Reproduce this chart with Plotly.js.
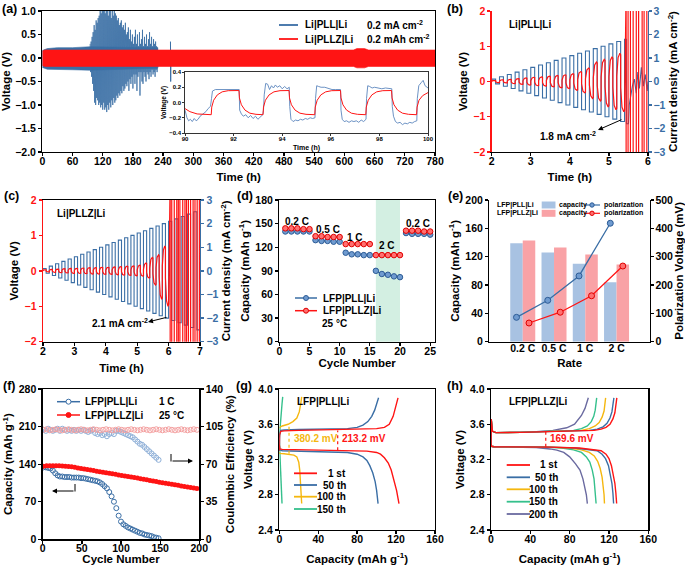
<!DOCTYPE html>
<html><head><meta charset="utf-8">
<script src="https://cdn.plot.ly/plotly-3.0.1.min.js"></script>
<style>html,body{margin:0;padding:0;background:#fff;}#chart{width:685px;height:565px;}</style>
</head><body><div id="chart"></div>
<script>
// ---------------- (a) long-term cycling ----------------
const aBlueBandT  = [0, 10, 30, 60, 95, 229];
const aBlueBandHi = [0.16, 0.2, 0.22, 0.22, 0.24, 0.22];
const aBlueBandLo = [-0.2, -0.24, -0.25, -0.25, -0.26, -0.22];
const aBlueSpikeStart = 95, aBlueSpikeStep = 2;
const aBlueSpikeHi = [0.3,0.35,0.45,0.55,0.7,0.6,0.8,0.75,0.85,0.9,1.0,0.95,1.0,1.0,1.0,0.95,1.0,1.0,0.9,1.0,1.0,0.85,1.0,0.9,1.0,0.95,0.9,0.8,0.85,0.7,0.75,0.8,0.65,0.7,0.6,0.75,0.5,0.55,0.65,0.4,0.6,0.35,0.5,0.3,0.45,0.6,0.3,0.5,0.25,0.55,0.3,0.4,0.6,0.25,0.45,0.3,0.5,0.25,0.4,0.55,0.3,0.45,0.25,0.4,0.3,0.35,0.25,0.22];
const aBlueSpikeLo = [-0.3,-0.4,-0.55,-0.7,-0.95,-1.0,-0.85,-0.9,-1.0,-0.95,-1.05,-1.0,-1.1,-0.95,-1.1,-1.05,-1.15,-1.0,-1.1,-0.95,-1.05,-0.9,-1.0,-0.85,-0.95,-0.9,-0.8,-0.85,-0.75,-0.8,-0.7,-0.75,-0.6,-0.7,-0.65,-0.55,-0.6,-0.5,-0.7,-0.45,-0.55,-0.4,-0.65,-0.35,-0.55,-0.35,-0.7,-0.4,-0.3,-0.8,-0.3,-0.5,-0.55,-0.3,-0.4,-0.5,-0.3,-0.35,-0.45,-0.3,-0.4,-0.25,-0.35,-0.3,-0.4,-0.25,-0.3,-0.2];
const aBlueLateT = [254.6, 255, 255.4];
const aBlueLateV = [0.35, -0.5, 0.0];
const aRedBandT  = [0, 5, 300, 600, 618, 625, 640, 648, 780];
const aRedBandHi = [0.15, 0.17, 0.17, 0.17, 0.17, 0.2, 0.2, 0.17, 0.17];
const aRedBandLo = [-0.16, -0.18, -0.18, -0.18, -0.18, -0.21, -0.21, -0.18, -0.18];
// inset 90-100 h
const insRedT = [90,90.2,90.5,90.8,91.08,91.1,91.18,91.33,91.53,91.78,92.22,92.24,92.32,92.47,92.67,92.92,93.21,93.23,93.31,93.46,93.66,93.91,94.28,94.3,94.38,94.53,94.73,94.98,95.34,95.36,95.44,95.59,95.79,96.04,96.4,96.42,96.5,96.65,96.85,97.1,97.44,97.46,97.54,97.69,97.89,98.14,98.5,98.52,98.6,98.75,98.95,99.2,99.53,99.55,99.63,99.78,100];
const insRedV = [-0.08,-0.12,-0.15,-0.16,-0.16,-0.06,0.03,0.1,0.14,0.155,0.157,0.06,-0.03,-0.1,-0.14,-0.155,-0.16,-0.06,0.03,0.1,0.14,0.155,0.157,0.06,-0.03,-0.1,-0.14,-0.155,-0.16,-0.06,0.03,0.1,0.14,0.155,0.157,0.06,-0.03,-0.1,-0.14,-0.155,-0.16,-0.06,0.03,0.1,0.14,0.155,0.157,0.06,-0.03,-0.1,-0.14,-0.155,-0.16,-0.06,0.03,0.09,0.13];
const insBlueT = [90,90.08,90.15,90.22,90.3,90.38,90.46,90.54,90.62,90.7,90.78,90.86,90.95,91.05,91.09,91.13,91.25,91.6,92,92.23,92.25,92.32,92.4,92.5,92.6,92.7,92.8,92.9,93,93.1,93.2,93.23,93.26,93.32,93.4,93.48,93.56,93.64,93.72,93.8,93.9,94,94.1,94.2,94.29,94.31,94.36,94.45,94.55,94.65,94.75,94.85,94.95,95.05,95.15,95.25,95.35,95.37,95.42,95.5,95.6,95.75,95.9,96.05,96.2,96.4,96.42,96.47,96.55,96.65,96.75,96.85,96.95,97.05,97.15,97.25,97.35,97.45,97.47,97.52,97.6,97.7,97.8,97.95,98.1,98.25,98.4,98.51,98.53,98.58,98.66,98.75,98.85,98.95,99.05,99.15,99.25,99.35,99.45,99.54,99.56,99.62,99.72,99.8,99.88,100];
const insBlueV = [-0.1,-0.2,-0.24,-0.22,-0.25,-0.21,-0.24,-0.22,-0.18,-0.16,-0.14,-0.12,-0.08,-0.05,0.05,0.15,0.17,0.17,0.17,0.17,-0.1,-0.15,-0.18,-0.16,-0.2,-0.17,-0.21,-0.18,-0.22,-0.19,-0.16,-0.1,0.1,0.25,0.24,0.17,0.22,0.19,0.23,0.2,0.22,0.18,0.21,0.18,0.2,-0.05,-0.22,-0.25,-0.23,-0.24,-0.22,-0.23,-0.21,-0.22,-0.2,-0.21,-0.2,0.05,0.22,0.21,0.2,0.2,0.18,0.17,0.17,0.17,-0.1,-0.22,-0.25,-0.24,-0.26,-0.24,-0.25,-0.24,-0.26,-0.23,-0.25,-0.22,0.05,0.22,0.21,0.19,0.2,0.19,0.18,0.19,0.18,0.18,-0.05,-0.18,-0.25,-0.27,-0.26,-0.29,-0.27,-0.28,-0.26,-0.27,-0.25,-0.24,0.05,0.22,0.26,0.29,0.22,0.19];

// ---------------- (b) Li|PLL|Li rate steps ----------------
const bStart = 2.0, bHalf = 0.1;
const bCurrent = [0.1,0.2,0.3,0.4,0.5,0.6,0.7,0.8,0.9,1.0,1.1,1.2,1.3,1.4,1.5,1.6,1.7];
const bRedPos = [0.03,0.05,0.06,0.08,0.1,0.12,0.13,0.15,0.17,0.19,0.22,0.28,0.38,0.55,0.63,0.7,0.8];
const bRedNeg = [-0.03,-0.04,-0.06,-0.08,-0.1,-0.12,-0.13,-0.15,-0.18,-0.2,-0.25,-0.32,-0.48,-0.55,-0.72,-0.8,-0.86];
const bBlueTailT = [5.4,5.45,5.45,5.5,5.52,5.56,5.6,5.65,5.7,5.74,5.78,5.83,5.88,5.93,5.98,6.0];
const bBlueTailV = [1.8,1.8,-1.8,-1.8,-1.0,-0.6,-0.2,0.1,-0.5,0.4,-0.3,0.6,-0.2,0.3,-0.4,0.0];
const bFailT = [5.44,5.49,5.55,5.62,5.7,5.76,5.85,5.9,5.97];

// ---------------- (c) Li|PLLZ|Li rate steps ----------------
const cStart = 2.0, cHalf = 0.1;
const cCurrent = [0.1,0.2,0.3,0.4,0.5,0.6,0.7,0.8,0.9,1.0,1.1,1.2,1.3,1.4,1.5,1.6,1.7,1.8,1.9,2.0,2.1,2.2,2.3,2.4,2.5];
const cRedPos = [0.03,0.04,0.05,0.06,0.07,0.07,0.08,0.09,0.09,0.1,0.1,0.11,0.12,0.13,0.14,0.16,0.22,0.38,0.45,0.7];
const cRedNeg = [-0.03,-0.04,-0.05,-0.06,-0.07,-0.07,-0.08,-0.09,-0.09,-0.1,-0.1,-0.11,-0.12,-0.13,-0.14,-0.15,-0.2,-0.4,-0.8,-1.0];
const cFailT = [6.05,6.1,6.18,6.26,6.31,6.36,6.45,6.52,6.57,6.63,6.7,6.78,6.84,6.91,6.98];

// ---------------- (d) rate capability ----------------
const dCycles = [1,2,3,4,5,6,7,8,9,10,11,12,13,14,15,16,17,18,19,20,21,22,23,24,25];
const dPLL  = [140,140,140,140,140,129,128,128,127,127,113,111,111,110,110,90,86,85,83,82,138,137,137,137,136];
const dPLLZ = [144,144,144,143,143,134,134,133,133,133,124,124,124,124,124,110,110,110,110,110,141,141,141,140,140];
const dRateLabels = ['0.2 C','0.5 C','1 C','2 C','0.2 C'];
const dHighlight = [16, 20];

// ---------------- (e) capacity & polarization vs rate ----------------
const eRates = ['0.2 C','0.5 C','1 C','2 C'];
const eCapPLL  = [139,126,110,84];
const eCapPLLZ = [143,133,123,109];
const ePolPLL  = [86,146,232,418];
const ePolPLLZ = [66,104,162,267];

// ---------------- (f) long cycling at 1 C ----------------
const fCapPLL = [134,134,133,132,128,123,119,117,117,116,116,116,115,115,115,115,114,114,113,112,111,110,109,108,106,103,99,95,88,80,70,58,44,33,28,25,22,20,18,16,14,12,11,9,8,7,6,4,3,2];
const fCePLL  = [102,101,103,102,101,102,103,101,103,102,101,102,101,102,101,102,101,102,101,100,101,102,99,98,99,97,98,96,98,99,98,101,101,100,99,98,97,96,95,93,91,89,88,86,84,82,80,78,76,74];
const fCapPLLZ = [136,137,137,137,137,137,136.5,136,135.5,135,134,133,132,131,130,129,128,127,126,125,124,123,122,121,120,119,118,117,116,115,114,113,112,111,109.5,108.5,107.5,106.5,105.5,104.5,103.5,102.5,101.5,100.5,99.5,98.5,97.5,96.5,95.5,94.5];
const fCePLLZ = [102,102.5,101.5,102,102.5,102,101.5,102,102.5,102,101.5,102,102.5,102,101.5,102,102.5,102,101.5,102,102.5,102,101.5,102,102.5,102,101.5,102,102.5,102,101.5,102,102.5,102,101.5,102,102.5,102,101.5,102,102.5,102,101.5,102,102.5,102,101.5,102,102.5,102];

// ---------------- (g) LFP|PLL|Li charge/discharge ----------------
const g1ChgQ = [0,0.3,1.5,5,20,50,80,100,108,113,117,120,122];
const g1ChgV = [3.3,3.48,3.52,3.525,3.53,3.535,3.54,3.55,3.565,3.6,3.69,3.8,3.9];
const g1DisQ = [0,0.5,3,20,60,90,100,104,108,112,115,117,119,120.5,122,123];
const g1DisV = [3.37,3.32,3.315,3.31,3.305,3.295,3.28,3.26,3.22,3.16,3.08,3.0,2.92,2.85,2.76,2.7];
const g50ChgQ = [0,0.3,1.5,5,20,50,70,80,86,91,95,98,100.5,102];
const g50ChgV = [3.3,3.48,3.53,3.535,3.54,3.545,3.55,3.565,3.59,3.63,3.69,3.76,3.84,3.9];
const g50DisQ = [0,0.5,3,20,50,70,80,86,90,93,96,98.5,100,101,101.5];
const g50DisV = [3.36,3.31,3.3,3.295,3.29,3.28,3.26,3.23,3.19,3.13,3.05,2.95,2.85,2.77,2.7];
const g100ChgQ = [0,3,9,14,18,20.5,22,23];
const g100ChgV = [3.56,3.58,3.6,3.63,3.67,3.74,3.83,3.91];
const g100DisQ = [0,0.5,5,10,15,18,20,21,21.5,22,22.5,23];
const g100DisV = [3.28,3.27,3.265,3.26,3.25,3.23,3.17,3.08,3.0,2.9,2.8,2.7];
const g150ChgQ = [0,0.8,1.8,2.8,3.5];
const g150ChgV = [3.45,3.6,3.72,3.83,3.91];
const g150DisQ = [0,0.5,1.2,1.8,2.3,2.8];
const g150DisV = [3.42,3.3,3.15,3.0,2.85,2.7];

// ---------------- (h) LFP|PLLZ|Li charge/discharge ----------------
const h1ChgQ = [0,0.2,1.5,5,30,60,90,105,112,117,121,124,126,127.3,128];
const h1ChgV = [3.36,3.66,3.52,3.505,3.508,3.515,3.52,3.53,3.545,3.565,3.6,3.66,3.73,3.82,3.9];
const h1DisQ = [0,0.5,3,30,60,90,105,112,117,120,122.5,124.5,126,127,127.8];
const h1DisV = [3.37,3.35,3.345,3.345,3.34,3.33,3.315,3.3,3.26,3.21,3.13,3.03,2.93,2.82,2.7];
const h50ChgQ = [0,0.2,1.5,5,30,60,85,100,108,114,118,121,123,124.3,125];
const h50ChgV = [3.36,3.66,3.52,3.505,3.508,3.515,3.52,3.53,3.545,3.57,3.61,3.67,3.74,3.82,3.9];
const h50DisQ = [0,0.5,3,30,60,85,100,108,113,116.5,119.5,121.5,123,124,124.7];
const h50DisV = [3.37,3.35,3.345,3.345,3.34,3.33,3.315,3.3,3.26,3.21,3.13,3.03,2.93,2.82,2.7];
const h100ChgQ = [0,0.2,1.5,5,30,60,80,92,100,106,110,113,115,116,116.6];
const h100ChgV = [3.36,3.66,3.52,3.505,3.508,3.515,3.52,3.53,3.55,3.58,3.62,3.68,3.75,3.83,3.9];
const h100DisQ = [0,0.5,3,30,60,80,92,100,105,108.5,111,113,114.2,115,115.4];
const h100DisV = [3.37,3.35,3.345,3.345,3.34,3.33,3.31,3.28,3.24,3.18,3.1,3.0,2.9,2.8,2.7];
const h150ChgQ = [0,0.2,1.5,5,30,55,72,84,92,98,102,104.5,106,107,107.5];
const h150ChgV = [3.36,3.66,3.52,3.505,3.508,3.515,3.52,3.53,3.55,3.58,3.63,3.69,3.76,3.84,3.9];
const h150DisQ = [0,0.5,3,30,55,72,84,92,97,100.5,103,104.8,105.8,106.5,106.9];
const h150DisV = [3.37,3.35,3.345,3.345,3.34,3.33,3.31,3.28,3.23,3.17,3.08,2.98,2.88,2.78,2.7];
const h200ChgQ = [0,0.2,1.5,5,30,46,63,77,85,89,92,95.6,97.5,99];
const h200ChgV = [3.36,3.66,3.52,3.505,3.51,3.515,3.53,3.56,3.6,3.65,3.7,3.78,3.84,3.9];
const h200DisQ = [0,0.5,3,30,46,60,67,74,80,86,90.5,93.5,95.6,97,98];
const h200DisV = [3.37,3.35,3.345,3.342,3.337,3.32,3.307,3.28,3.23,3.15,3.08,2.98,2.89,2.8,2.7];

// ================= drawing =================
const FONT = '"Liberation Sans", Arial, Helvetica, sans-serif';
const W = 685, H = 565;
const PX = p => p / W, PY = p => 1 - p / H;
const BLUE = '#3a6ea5', RED = '#ff1414', YEL = '#f5b70f', GRN = '#35c08c', PUR = '#6a6aa0';
const tf = (s, c) => ({family: FONT, size: s, color: c || '#000', weight: 700});

function axis(o) {
  const a = {showline: true, linecolor: '#000', linewidth: 1.3, ticks: 'outside', ticklen: 3, tickwidth: 1.3,
    tickcolor: '#000', showgrid: false, zeroline: false, tickfont: tf(10.5), fixedrange: true};
  for (const k in o) if (!['tt','ts','so'].includes(k)) a[k] = o[k];
  if (o.tt !== undefined) a.title = {text: o.tt, font: tf(o.ts || 11.5), standoff: o.so !== undefined ? o.so : 4};
  return a;
}
const traces = [];
function line(x, y, xa, ya, color, w, extra) {
  traces.push(Object.assign({type: 'scatter', mode: 'lines', x: x, y: y, xaxis: xa, yaxis: ya,
    line: {color: color, width: w || 1}, hoverinfo: 'skip'}, extra || {}));
}
function band(t, hi, lo) { return {x: t.concat(t.slice().reverse()), y: hi.concat(lo.slice().reverse())}; }

// (a)
let bb = band(aBlueBandT, aBlueBandHi, aBlueBandLo);
line(bb.x, bb.y, 'x', 'y', BLUE, 0.6, {fill: 'toself', fillcolor: BLUE});
const zx = [], zy = [];
aBlueSpikeHi.forEach((v, i) => { const t = aBlueSpikeStart + i * aBlueSpikeStep; zx.push(t, t + 1); zy.push(v, aBlueSpikeLo[i]); });
line(zx, zy, 'x', 'y', BLUE, 0.8);
line(aBlueLateT, aBlueLateV, 'x', 'y', BLUE, 1);
let rb = band(aRedBandT, aRedBandHi, aRedBandLo);
line(rb.x, rb.y, 'x', 'y', RED, 0.6, {fill: 'toself', fillcolor: RED});
line(insBlueT, insBlueV, 'x2', 'y2', '#5b86bd', 0.9);
line(insRedT, insRedV, 'x2', 'y2', RED, 1);

// square-wave current and voltage response builders (from the step arrays)
function currentWave(t0, half, amps) {
  const x = [t0], y = [0];
  amps.forEach((a, k) => { const ts = t0 + 2 * k * half; x.push(ts, ts + half, ts + half, ts + 2 * half); y.push(a, a, -a, -a); });
  return {x, y};
}
function voltWave(t0, half, pos, neg) {
  const shape = [[0, 0.2], [0.12, 0.6], [0.35, 0.85], [0.8, 1], [1, 0.95]];
  const x = [t0], y = [0];
  pos.forEach((p, k) => {
    const ts = t0 + 2 * k * half;
    shape.forEach(s => { x.push(ts + s[0] * half); y.push(s[1] * p); });
    shape.forEach(s => { x.push(ts + half + s[0] * half); y.push(s[1] * neg[k]); });
  });
  return {x, y};
}
function failLines(times, big) {
  const x = [], y = [];
  times.forEach((t, i) => { const s = i % 2 ? -1 : 1; x.push(t, t); y.push(s * big, -s * big); });
  return {x, y};
}
// (b)
let cw = currentWave(bStart, bHalf, bCurrent);
line(cw.x.concat(bBlueTailT), cw.y.concat(bBlueTailV), 'x3', 'y3', BLUE, 1.1);
let vw = voltWave(bStart, bHalf, bRedPos, bRedNeg), fl = failLines(bFailT, 2.6);
line(vw.x.concat(fl.x), vw.y.concat(fl.y), 'x3', 'y4', RED, 1.2);
// (c)
cw = currentWave(cStart, cHalf, cCurrent);
line(cw.x, cw.y, 'x4', 'y5', BLUE, 1.1);
vw = voltWave(cStart, cHalf, cRedPos, cRedNeg); fl = failLines(cFailT, 2.6);
line(vw.x.concat(fl.x), vw.y.concat(fl.y), 'x4', 'y6', RED, 1.2);

// (d)
function gapped(arr, n) { const o = []; arr.forEach((v, i) => { if (i > 0 && i % n === 0) o.push(null); o.push(v); }); return o; }
traces.push({type: 'scatter', mode: 'lines+markers', x: gapped(dCycles, 5), y: gapped(dPLL, 5), xaxis: 'x5', yaxis: 'y7',
  line: {color: BLUE, width: 1.3}, marker: {size: 5.5, color: '#6f9bd0', line: {color: '#2d5c96', width: 1}}, connectgaps: false, hoverinfo: 'skip'});
traces.push({type: 'scatter', mode: 'lines+markers', x: gapped(dCycles, 5), y: gapped(dPLLZ, 5), xaxis: 'x5', yaxis: 'y7',
  line: {color: RED, width: 1.3}, marker: {size: 5.5, color: '#ff7070', line: {color: '#e00000', width: 1}}, connectgaps: false, hoverinfo: 'skip'});

// (e)
const eIdx = eRates.map((_, i) => i);
traces.push({type: 'bar', x: eIdx, y: eCapPLL, width: 0.4, offset: -0.4, xaxis: 'x6', yaxis: 'y8', marker: {color: '#a8c2e2', line: {width: 0}}, hoverinfo: 'skip'});
traces.push({type: 'bar', x: eIdx, y: eCapPLLZ, width: 0.4, offset: 0, xaxis: 'x6', yaxis: 'y8', marker: {color: '#f9a2a6', line: {width: 0}}, hoverinfo: 'skip'});
traces.push({type: 'scatter', mode: 'lines+markers', x: eIdx.map(i => i - 0.2), y: ePolPLL, xaxis: 'x6', yaxis: 'y9',
  line: {color: BLUE, width: 1.3}, marker: {size: 6, color: '#6f9bd0', line: {color: '#2d5c96', width: 1}}, hoverinfo: 'skip'});
traces.push({type: 'scatter', mode: 'lines+markers', x: eIdx.map(i => i + 0.2), y: ePolPLLZ, xaxis: 'x6', yaxis: 'y9',
  line: {color: RED, width: 1.3}, marker: {size: 6, color: '#ff7070', line: {color: '#e00000', width: 1}}, hoverinfo: 'skip'});

// (f)
const fCycPLL = fCapPLL.map((_, i) => 1 + 3 * i);
const fCycPLLZ = fCapPLLZ.map((_, i) => 1 + 4 * i);
traces.push({type: 'scatter', mode: 'markers', x: fCycPLL, y: fCapPLL, xaxis: 'x7', yaxis: 'y10', marker: {symbol: 'circle-open', size: 5, color: BLUE, line: {width: 1}}, hoverinfo: 'skip'});
traces.push({type: 'scatter', mode: 'markers', x: fCycPLLZ, y: fCapPLLZ, xaxis: 'x7', yaxis: 'y10', marker: {symbol: 'circle', size: 5, color: RED}, hoverinfo: 'skip'});
traces.push({type: 'scatter', mode: 'markers', x: fCycPLL, y: fCePLL, xaxis: 'x7', yaxis: 'y11', marker: {symbol: 'circle-open', size: 5, color: '#8fb0d8', line: {width: 1}}, hoverinfo: 'skip'});
traces.push({type: 'scatter', mode: 'markers', x: fCycPLLZ, y: fCePLLZ, xaxis: 'x7', yaxis: 'y11', marker: {symbol: 'circle-open', size: 5, color: '#f4a0a0', line: {width: 1}}, hoverinfo: 'skip'});

// (g)
[[g150ChgQ, g150ChgV, g150DisQ, g150DisV, GRN], [g100ChgQ, g100ChgV, g100DisQ, g100DisV, YEL],
 [g50ChgQ, g50ChgV, g50DisQ, g50DisV, BLUE], [g1ChgQ, g1ChgV, g1DisQ, g1DisV, RED]].forEach(c => {
  line(c[0], c[1], 'x8', 'y12', c[4], 1.4); line(c[2], c[3], 'x8', 'y12', c[4], 1.4);
});
// (h)
[[h200ChgQ, h200ChgV, h200DisQ, h200DisV, PUR], [h150ChgQ, h150ChgV, h150DisQ, h150DisV, GRN],
 [h100ChgQ, h100ChgV, h100DisQ, h100DisV, YEL], [h50ChgQ, h50ChgV, h50DisQ, h50DisV, BLUE],
 [h1ChgQ, h1ChgV, h1DisQ, h1DisV, RED]].forEach(c => {
  line(c[0], c[1], 'x9', 'y13', c[4], 1.4); line(c[2], c[3], 'x9', 'y13', c[4], 1.4);
});

// ---------------- layout ----------------
const dx = (a, b) => [PX(a), PX(b)], dy = (t, b) => [PY(b), PY(t)];
const XS = -4;  // tick labels closer to the x axis lines
const layout = {
  width: W, height: H, margin: {l: 0, r: 0, t: 0, b: 0}, paper_bgcolor: '#fff', plot_bgcolor: '#fff',
  showlegend: false, barmode: 'overlay', font: tf(10.5),
  xaxis: axis({domain: dx(42.3, 435), anchor: 'y', range: [0, 780], dtick: 60, tick0: 0, mirror: true, ticklabelstandoff: XS, tt: 'Time (h)', so: 7}),
  yaxis: axis({domain: dy(11, 152), anchor: 'x', range: [-2, 1], dtick: 0.5, tickformat: '.1f', mirror: true, tt: 'Voltage (V)', so: 3}),
  xaxis2: axis({domain: dx(185, 428), anchor: 'y2', range: [90, 100], dtick: 2, mirror: true, linewidth: 0.8, tickwidth: 0.8, ticklen: 2, tickfont: tf(6), ticklabelstandoff: -2, tt: 'Time (h)', ts: 7, so: 3}),
  yaxis2: axis({domain: dy(72, 133), anchor: 'x2', range: [-0.4, 0.4], dtick: 0.2, tickformat: '.1f', mirror: true, linewidth: 0.8, tickwidth: 0.8, ticklen: 2, tickfont: tf(6), tt: 'Voltage (V)', ts: 6.5, so: 1}),
  xaxis3: axis({domain: dx(491.7, 648), anchor: 'y3', range: [2, 6], dtick: 1, ticklabelstandoff: XS, tt: 'Time (h)', so: 7}),
  yaxis3: axis({domain: dy(11, 152), anchor: 'x3', side: 'right', range: [-3, 3], dtick: 1, linecolor: BLUE, tickcolor: BLUE, tickfont: tf(10.5, BLUE), ticklabelstandoff: -1, tt: 'Current density (mA cm<sup>-2</sup>)', so: 0}),
  yaxis4: axis({overlaying: 'y3', anchor: 'x3', side: 'left', range: [-2, 2], dtick: 1, linecolor: RED, tickcolor: RED, tickfont: tf(10.5, RED), tt: 'Voltage (V)', so: 3}),
  xaxis4: axis({domain: dx(43, 200), anchor: 'y5', range: [2, 7], dtick: 1, mirror: true, ticklabelstandoff: XS, tt: 'Time (h)', so: 8}),
  yaxis5: axis({domain: dy(200, 341.7), anchor: 'x4', side: 'right', range: [-3, 3], dtick: 1, linecolor: BLUE, tickcolor: BLUE, tickfont: tf(10.5, BLUE), tt: 'Current density (mA cm<sup>-2</sup>)', so: 2}),
  yaxis6: axis({overlaying: 'y5', anchor: 'x4', side: 'left', range: [-2, 2], dtick: 1, linecolor: RED, tickcolor: RED, tickfont: tf(10.5, RED), tt: 'Voltage (V)', so: 3}),
  xaxis5: axis({domain: dx(279.3, 435), anchor: 'y7', range: [0, 25.8], dtick: 5, mirror: true, ticklabelstandoff: XS, tt: 'Cycle Number', so: 3}),
  yaxis7: axis({domain: dy(200, 341.7), anchor: 'x5', range: [0, 180], dtick: 30, mirror: true, tt: 'Capacity (mAh g<sup>-1</sup>)', so: 3}),
  xaxis6: axis({domain: dx(489.3, 650), anchor: 'y8', range: [-1.07, 4.07], tickvals: eIdx, ticktext: eRates, ticks: '', ticklabelstandoff: XS, tt: 'Rate', so: 6}),
  yaxis8: axis({domain: dy(200, 341.7), anchor: 'x6', range: [0, 200], dtick: 40, tt: 'Capacity (mAh g<sup>-1</sup>)', so: 3}),
  yaxis9: axis({overlaying: 'y8', anchor: 'x6', side: 'right', range: [0, 500], dtick: 100, ticklabelstandoff: -1, tt: 'Polarization Voltage (mV)', so: 0}),
  xaxis7: axis({domain: dx(42.7, 199.3), anchor: 'y10', range: [0, 200], dtick: 50, mirror: true, ticklabelstandoff: XS, tt: 'Cycle Number', so: 7}),
  yaxis10: axis({domain: dy(389, 539.3), anchor: 'x7', range: [0, 280], dtick: 70, tt: 'Capacity (mAh g<sup>-1</sup>)', so: 3}),
  yaxis11: axis({overlaying: 'y10', anchor: 'x7', side: 'right', range: [0, 140], dtick: 35, tt: 'Coulombic Efficiency (%)', so: 3}),
  xaxis8: axis({domain: dx(279.3, 435), anchor: 'y12', range: [0, 160], dtick: 40, mirror: true, ticklabelstandoff: XS, tt: 'Capacity (mAh g<sup>-1</sup>)', so: 12}),
  yaxis12: axis({domain: dy(389, 530), anchor: 'x8', range: [2.4, 4.0], dtick: 0.4, tickformat: '.1f', mirror: true, tt: 'Voltage (V)', so: 3}),
  xaxis9: axis({domain: dx(491, 648.3), anchor: 'y13', range: [0, 160], dtick: 40, mirror: true, ticklabelstandoff: XS, tt: 'Capacity (mAh g<sup>-1</sup>)', so: 12}),
  yaxis13: axis({domain: dy(389, 530), anchor: 'x9', range: [2.4, 4.0], dtick: 0.4, tickformat: '.1f', mirror: true, tt: 'Voltage (V)', so: 3})
};

// ---------------- annotations & shapes (labels, legends, guides) ----------------
const ann = [], shp = [];
const txt = (x, y, t, o) => ann.push(Object.assign({xref: 'paper', yref: 'paper', x: PX(x), y: PY(y), text: t, showarrow: false,
  font: tf(10), xanchor: 'left', yanchor: 'middle'}, o || {}));
const hseg = (x0, x1, y, c, w, dash) => shp.push({type: 'line', xref: 'paper', yref: 'paper', x0: PX(x0), x1: PX(x1), y0: PY(y), y1: PY(y), line: {color: c, width: w || 1.6, dash: dash || 'solid'}});
const vseg = (x, y0, y1, c, w) => shp.push({type: 'line', xref: 'paper', yref: 'paper', x0: PX(x), x1: PX(x), y0: PY(y0), y1: PY(y1), line: {color: c, width: w || 1}});
const dot = (cx, cy, r, fill, lc) => shp.push({type: 'circle', xref: 'paper', yref: 'paper', x0: PX(cx - r), x1: PX(cx + r), y0: PY(cy + r), y1: PY(cy - r), fillcolor: fill, line: {color: lc, width: 1}});
const arrow = (hx, hy, tx, ty) => ann.push({xref: 'paper', yref: 'paper', x: PX(hx), y: PY(hy), ax: tx - hx, ay: ty - hy, text: '', showarrow: true, arrowhead: 2, arrowsize: 1, arrowwidth: 1, arrowcolor: '#000'});

// panel letters
[['(a)', 9, 9], ['(b)', 455, 9], ['(c)', 11, 196], ['(d)', 245, 196], ['(e)', 455, 196], ['(f)', 9, 386], ['(g)', 244, 386], ['(h)', 455, 386]]
  .forEach(l => txt(l[1], l[2], l[0], {xanchor: 'center', font: tf(12.5)}));

// (a) legend
hseg(279, 298, 25, BLUE, 1.8); hseg(279, 298, 39, RED, 1.8);
txt(303, 25, 'Li|PLL|Li'); txt(303, 39, 'Li|PLLZ|Li');
txt(365, 25, '0.2 mA cm<sup>-2</sup>'); txt(365, 39, '0.2 mAh cm<sup>-2</sup>');
// (b), (c)
txt(507, 25, 'Li|PLL|Li');
txt(538, 136, '1.8 mA cm<sup>-2</sup>'); arrow(598, 130, 623, 119);
txt(55, 213, 'Li|PLLZ|Li');
txt(90, 323, '2.1 mA cm<sup>-2</sup>'); arrow(148, 322, 168, 317);
// (d)
shp.push({type: 'rect', xref: 'x5', yref: 'y7 domain', x0: dHighlight[0], x1: dHighlight[1], y0: 0, y1: 1, fillcolor: '#d3efe2', line: {width: 0}, layer: 'below'});
[[297, 221, 0], [328, 229, 1], [355, 237, 2], [387, 246, 3], [418, 223, 4]].forEach(p => txt(p[0], p[1], dRateLabels[p[2]], {xanchor: 'center'}));
hseg(295, 317, 298, BLUE, 1.5); dot(306, 298, 2.5, '#6f9bd0', '#2d5c96');
hseg(295, 317, 310.7, RED, 1.5); dot(306, 310.7, 2.5, '#ff7070', '#e00000');
txt(321, 298, 'LFP|PLL|Li'); txt(321, 310.7, 'LFP|PLLZ|Li'); txt(320, 323, '25 °C');
// (e) legend
const e7 = tf(7);
txt(495, 205, 'LFP|PLL|Li', {font: e7}); txt(495, 213.3, 'LFP|PLLZ|Li', {font: e7});
shp.push({type: 'rect', xref: 'paper', yref: 'paper', x0: PX(541.7), x1: PX(555.5), y0: PY(208.5), y1: PY(201.5), fillcolor: '#a8c2e2', line: {width: 0}});
shp.push({type: 'rect', xref: 'paper', yref: 'paper', x0: PX(541.7), x1: PX(555.5), y0: PY(216.8), y1: PY(209.8), fillcolor: '#f9a2a6', line: {width: 0}});
txt(557, 205, 'capacity', {font: e7}); txt(557, 213.3, 'capacity', {font: e7});
hseg(584, 600, 205, BLUE, 1.2); dot(592, 205, 2.2, '#6f9bd0', '#2d5c96');
hseg(584, 600, 213.3, RED, 1.2); dot(592, 213.3, 2.2, '#ff7070', '#e00000');
txt(602, 205, 'polarization', {font: e7}); txt(602, 213.3, 'polarization', {font: e7});
// (f) legend & arrows
hseg(57, 80, 401.7, BLUE, 1.5); dot(68.5, 401.7, 2.5, '#fff', BLUE);
hseg(57, 80, 415, RED, 1.5); dot(68.5, 415, 2.5, RED, RED);
txt(83, 401.7, 'LFP|PLL|Li'); txt(83, 415, 'LFP|PLLZ|Li');
txt(157, 401.7, '1 C'); txt(157, 415, '25 °C');
vseg(75, 484, 491.5, '#000', 1); arrow(52, 491, 75, 491);
vseg(171, 454, 461.5, '#000', 1); arrow(193, 461, 171, 461);
// (g)
txt(295, 401.7, 'LFP|PLL|Li');
shp.push({type: 'line', xref: 'x8', yref: 'y12', x0: 10, x1: 10, y0: 3.265, y1: 3.58, line: {color: YEL, width: 1.2, dash: 'dot'}});
shp.push({type: 'line', xref: 'x8', yref: 'y12', x0: 60, x1: 60, y0: 3.305, y1: 3.53, line: {color: RED, width: 1.2, dash: 'dot'}});
txt(315.5, 438.3, '380.2 mV', {xanchor: 'center', font: tf(10, YEL)});
txt(364, 438.3, '213.2 mV', {xanchor: 'center', font: tf(10, RED)});
[['1 st', RED, 473.3], ['50 th', BLUE, 485], ['100 th', YEL, 496.7], ['150 th', GRN, 509]].forEach(l => {
  hseg(294, 317, l[2], l[1], 1.8); txt(348, l[2], l[0], {xanchor: 'right'});
});
// (h)
txt(507, 401.7, 'LFP|PLLZ|Li');
shp.push({type: 'line', xref: 'x9', yref: 'y13', x0: 55.7, x1: 55.7, y0: 3.345, y1: 3.515, line: {color: RED, width: 1.2, dash: 'dot'}});
txt(571.7, 438.3, '169.6 mV', {xanchor: 'center', font: tf(10, RED)});
[['1 st', RED, 465], ['50 th', BLUE, 477.3], ['100 th', YEL, 489.3], ['150 th', GRN, 501.7], ['200 th', PUR, 514]].forEach(l => {
  hseg(506.7, 530, l[2], l[1], 1.8); txt(560, l[2], l[0], {xanchor: 'right'});
});

layout.annotations = ann;
layout.shapes = shp;
Plotly.newPlot('chart', traces, layout, {displayModeBar: false, staticPlot: true});
</script></body></html>
